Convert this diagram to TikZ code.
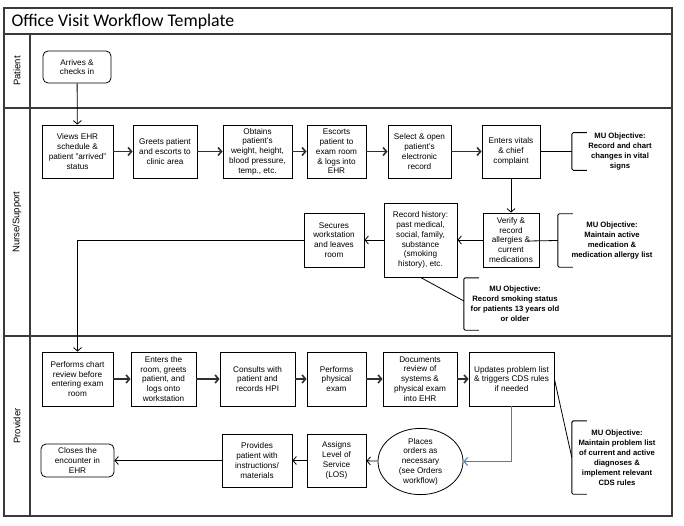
\documentclass[tikz,border=0pt]{standalone}
\usepackage{fontspec}
\setmainfont{Liberation Sans}
\newfontfamily\titlefont{Carlito}
\usetikzlibrary{arrows.meta,shapes.geometric}
\definecolor{frameline}{HTML}{3A3A3A}
\definecolor{flowink}{HTML}{303030}
\definecolor{orderblue}{HTML}{4A7EBB}
\tikzset{
  box/.style={draw=black,line width=0.8pt,fill=white,align=center,inner sep=1pt,font=\fontsize{8.2}{9.8}\selectfont},
  mu/.style={align=center,inner sep=0pt,font=\bfseries\fontsize{7.7}{10}\selectfont},
  flow/.style={draw=black,line width=0.8pt,-{Straight Barb[length=3.5pt,width=8pt]}},
  flowthick/.style={draw=flowink,line width=1.6pt,-{Straight Barb[length=3.5pt,width=8pt]}},
  link/.style={draw=black,line width=0.8pt},
  brk/.style={draw=black,line width=0.9pt,rounded corners=1.5pt},
  lane/.style={draw=frameline,line width=1.1pt}
}
\begin{document}
\begin{tikzpicture}[x=1pt,y=-1pt]
\useasboundingbox (0,0) rectangle (684,526);
\draw[lane] (4,8) rectangle (672,516);
\draw[lane] (4,34) -- (672,34) (4,108) -- (672,108) (4,336) -- (672,336) (30,34) -- (30,516);
\node[anchor=west,font=\titlefont\fontsize{17.8}{19}\selectfont] (title) at (8,21.5) {Office Visit Workflow Template};
\foreach \n/\y/\t in {lpatient/71/Patient,lnurse/222/{Nurse/Support},lprovider/426/Provider}
  \node[rotate=90,font=\fontsize{9.5}{11}\selectfont] (\n) at (17,\y) {\t};
\node[box,rounded corners=5pt,minimum width=68,minimum height=32] (arrives) at (77,67) {Arrives \&\\checks in};
\foreach \n/\x/\y/\w/\h/\t in {
  views/77.5/151.5/71/53/{Views EHR\\schedule \&\\patient "arrived"\\status},
  greets/165/151.5/64/53/{Greets patient\\and escorts to\\clinic area},
  obtains/257.5/151.5/69/53/{Obtains\\patient's\\weight, height,\\blood pressure,\\temp., etc.},
  escorts/336.5/151.5/59/53/{Escorts\\patient to\\exam room\\\& logs into\\EHR},
  select/419.5/151.5/63/53/{Select \& open\\patient's\\electronic\\record},
  vitals/511/151.5/58/53/{Enters vitals\\\& chief\\complaint},
  verify/511/240/56/54/{Verify \&\\record\\allergies \&\\current\\medications},
  history/420.5/240/73/74/{Record history:\\past medical,\\social, family,\\substance\\(smoking\\history), etc.},
  secures/334/240/60/54/{Secures\\workstation\\and leaves\\room},
  chart/77.5/379/71/54/{Performs chart\\review before\\entering exam\\room},
  room/163.5/379/65/54/{Enters the\\room, greets\\patient, and\\logs onto\\workstation},
  consults/257.5/379/75/54/{Consults with\\patient and\\records HPI},
  physical/336.5/379/59/54/{Performs\\physical\\exam},
  documents/420/379/74/54/{Documents\\review of\\systems \&\\physical exam\\into EHR},
  updates/511.5/379/85/54/{Updates problem list\\\& triggers CDS rules\\if needed},
  assigns/336.5/460.5/59/53/{Assigns\\Level of\\Service\\(LOS)},
  provides/257/460.5/70/53/{Provides\\patient with\\instructions/\\materials}}
  \node[box,minimum width=\w,minimum height=\h] (\n) at (\x,\y) {\t};
\node[box,rounded corners=5pt,minimum width=73,minimum height=33] (closes) at (77.5,460.5) {Closes the\\encounter in\\EHR};
\node[box,ellipse,inner sep=0pt,minimum width=85,minimum height=58] (places) at (420.5,461.5) {Places\\orders as\\necessary\\(see Orders\\workflow)};
\node[mu,minimum width=96,minimum height=37] (mu1) at (620,151.5) {MU Objective:\\Record and chart\\changes in vital\\signs};
\node[mu,minimum width=108,minimum height=53] (mu2) at (612,240.5) {MU Objective:\\Maintain active\\medication \&\\medication allergy list};
\node[mu,minimum width=102,minimum height=52] (mu3) at (515,304) {MU Objective:\\Record smoking status\\for patients 13 years old\\or older};
\node[mu,minimum width=90,minimum height=73] (mu4) at (617,457.5) {MU Objective:\\Maintain problem list\\of current and active\\diagnoses \&\\implement relevant\\CDS rules};
\foreach \m in {mu1,mu2,mu3,mu4}
  \draw[brk] ([xshift=15pt]\m.north west) -- (\m.north west) -- (\m.south west) -- ([xshift=15pt]\m.south west);
\coordinate (vtip) at (528,241);
\draw[flow] (arrives) -- (views);
\foreach \a/\b in {views/greets,greets/obtains,obtains/escorts,escorts/select,select/vitals,chart/room,room/consults,consults/physical,physical/documents,documents/updates}
  \draw[flowthick] (\a) -- (\b);
\foreach \a/\b in {vitals/verify,verify/history,history/secures,places/assigns,assigns/provides,provides/closes}
  \draw[flow] (\a) -- (\b);
\draw[flow] (secures.west) -| (chart.north);
\draw[link] (vitals) -- (mu1.west);
\draw[link] (mu2.west) -- (vtip);
\draw[link] (history.south) -- ([yshift=3pt]mu3.west);
\draw[link] (updates.east) -- (mu4.west);
\draw[orderblue,line width=1pt,-{Straight Barb[length=3.5pt,width=8pt]}] (updates.south) |- (places.east);
\end{tikzpicture}
\end{document}
